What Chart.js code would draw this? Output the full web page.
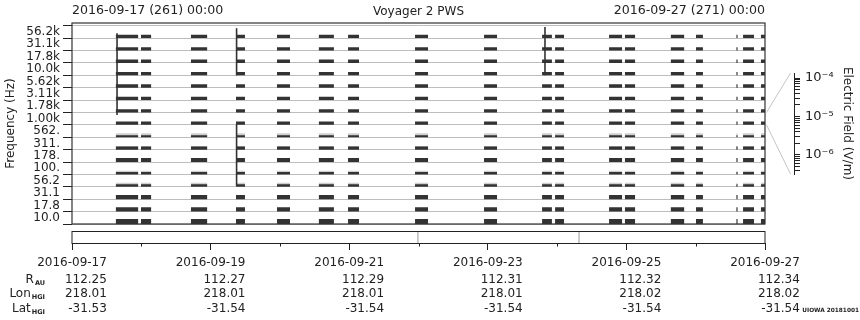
<!DOCTYPE html>
<html>
<head>
<meta charset="utf-8">
<script src="https://cdn.jsdelivr.net/npm/chart.js@4.4.0/dist/chart.umd.min.js"></script>
<style>
  body { margin: 0; background: #fff; }
  #wrap { position: relative; width: 860px; height: 320px; }
  canvas { position: absolute; }
</style>
</head>
<body>
<div id="wrap">
  <canvas id="main" width="860" height="320" style="left:0;top:0"></canvas>
  <canvas id="strip" width="860" height="95" style="left:0;top:225px"></canvas>
  <canvas id="cbar" width="100" height="320" style="left:760px;top:0"></canvas>
</div>
<script>
// channel labels, bottom to top
const freqLabels = ["10.0", "17.8", "31.1", "56.2", "100.", "178.", "311.", "562.",
  "1.00k", "1.78k", "3.11k", "5.62k", "10.0k", "17.8k", "31.1k", "56.2k"];

// data blocks, hours since 2016-09-17 00:00
const blockStart = [15.2, 23.9, 41.2, 56.8, 71.0, 85.5, 95.6, 118.8, 142.7, 162.8, 167.3, 186.0, 191.5, 207.4, 216.1, 230.1, 232.4, 238.6];
const blockEnd   = [22.9, 27.4, 46.8, 59.9, 75.5, 90.7, 99.4, 123.3, 147.2, 166.2, 170.4, 190.5, 195.0, 212.0, 218.5, 230.5, 236.2, 240.0];

// level of each channel trace (fraction of a channel row), and faint scatter above it
const chanLevel = [0.40, 0.35, 0.35, 0.20, 0.20, 0.32, 0.25, 0.16, 0.27, 0.27, 0.27, 0.27, 0.27, 0.27, 0.27, 0.27];
const chanHaze  = [0, 0, 0, 0.32, 0.30, 0, 0.30, 0.32, 0, 0, 0, 0, 0, 0, 0, 0];

// impulsive spikes: time (h) and channel span
const spikeTime = [15.6, 57.0, 57.0, 163.8];
const spikeLow  = [8.8, 12.0, 3.1, 12.0];
const spikeHigh = [15.4, 15.8, 8.05, 15.9];

const headLeft = "2016-09-17 (261) 00:00";
const headTitle = "Voyager 2 PWS";
const headRight = "2016-09-27 (271) 00:00";

const dateTicks = ["2016-09-17", "2016-09-19", "2016-09-21", "2016-09-23", "2016-09-25", "2016-09-27"];
const rAU    = ["112.25", "112.27", "112.29", "112.31", "112.32", "112.34"];
const lonHGI = ["218.01", "218.01", "218.01", "218.01", "218.02", "218.02"];
const latHGI = ["-31.53", "-31.54", "-31.54", "-31.54", "-31.54", "-31.54"];
const stripMarks = [119.8, 175.6];

const fieldMin = 3.2e-7, fieldMax = 1.35e-4;
const fieldTicks = [1e-6, 1e-5, 1e-4];
const fieldLabels = ["10\u207B\u2076", "10\u207B\u2075", "10\u207B\u2074"];

Chart.defaults.font.family = "DejaVu Sans";
Chart.defaults.font.size = 12;
Chart.defaults.color = "#222";

function blockPoints(c, h) {
  const pts = [{ x: 0, y: c }];
  blockStart.forEach((s, i) => {
    pts.push({ x: s, y: c }, { x: s, y: c + h }, { x: blockEnd[i], y: c + h }, { x: blockEnd[i], y: c });
  });
  pts.push({ x: 240, y: c });
  return pts;
}

const datasets = [];
freqLabels.forEach((_, c) => {
  if (chanHaze[c]) {
    datasets.push({ data: blockPoints(c, chanHaze[c]), fill: { value: c }, backgroundColor: "#cfcfcf",
      borderColor: "rgba(0,0,0,0)", borderWidth: 0, pointRadius: 0, order: 2 });
  }
  datasets.push({ data: blockPoints(c, chanLevel[c]), fill: { value: c }, backgroundColor: "#333",
    borderColor: "rgba(0,0,0,0)", borderWidth: 0, pointRadius: 0, order: 1 });
});
spikeTime.forEach((t, i) => {
  datasets.push({ data: [{ x: t, y: spikeLow[i] }, { x: t, y: spikeHigh[i] }],
    borderColor: "#333", borderWidth: 1.6, pointRadius: 0, fill: false, order: 0 });
});

const mainDeco = {
  id: "mainDeco",
  afterDraw(chart) {
    const { ctx, chartArea: a } = chart;
    ctx.save();
    ctx.strokeStyle = "#333";
    ctx.lineWidth = 1.2;
    ctx.strokeRect(a.left, a.top, a.right - a.left, a.bottom - a.top);
    ctx.fillStyle = "#222";
    ctx.textBaseline = "alphabetic";
    ctx.font = '12.6px "DejaVu Sans"';
    ctx.textAlign = "left";
    ctx.fillText(headLeft, a.left, 13.5);
    ctx.textAlign = "right";
    ctx.fillText(headRight, a.right, 13.5);
    ctx.font = '12px "DejaVu Sans"';
    ctx.textAlign = "center";
    ctx.fillText(headTitle, (a.left + a.right) / 2, 15);
    ctx.restore();
  }
};

const mainChart = new Chart(document.getElementById("main"), {
  type: "line",
  data: { datasets },
  options: {
    responsive: false,
    animation: false,
    layout: { padding: { left: 0, top: 23, right: 95, bottom: 96 } },
    plugins: { legend: { display: false }, tooltip: { enabled: false } },
    scales: {
      x: { type: "linear", min: 0, max: 240, display: false },
      y: {
        type: "linear",
        min: 0,
        max: 16.22,
        afterFit(s) { s.width = 72; },
        afterBuildTicks(s) {
          const t = [];
          for (let v = 0; v <= 16; v += 0.5) t.push({ value: v });
          s.ticks = t;
        },
        ticks: {
          autoSkip: false,
          padding: 3,
          callback: (v) => (v % 1 === 0.5 ? freqLabels[Math.floor(v)] : "")
        },
        grid: {
          tickLength: 9,
          color: (c) => (c.tick && c.tick.value % 1 === 0 ? "#bdbdbd" : "rgba(0,0,0,0)"),
          tickColor: (c) => (c.tick && c.tick.value % 1 === 0 ? "#222" : "rgba(0,0,0,0)")
        },
        border: { display: false },
        title: { display: true, text: "Frequency (Hz)", padding: { top: 4, bottom: 4 } }
      }
    }
  },
  plugins: [mainDeco]
});

const stripDeco = {
  id: "stripDeco",
  afterDraw(chart) {
    const { ctx, chartArea: a, scales } = chart;
    const x = scales.x;
    ctx.save();
    ctx.strokeStyle = "#222";
    ctx.lineWidth = 1;
    ctx.strokeRect(a.left, a.top + 0.5, a.right - a.left, a.bottom - a.top);
    ctx.beginPath();
    for (let d = 1; d < 10; d += 2) {
      const px = Math.round(x.getPixelForValue(d * 24)) + 0.5;
      ctx.moveTo(px, a.bottom);
      ctx.lineTo(px, a.bottom + 3.5);
    }
    ctx.stroke();
    ctx.fillStyle = "#222";
    ctx.font = '12px "DejaVu Sans"';
    ctx.textBaseline = "alphabetic";
    dateTicks.forEach((d, i) => {
      const px = x.getPixelForValue(48 * i);
      const w = ctx.measureText(d).width;
      ctx.textAlign = "center";
      ctx.fillText(d, px, 40.7);
      ctx.textAlign = "right";
      ctx.fillText(rAU[i], px + w / 2, 57.7);
      ctx.fillText(lonHGI[i], px + w / 2, 72.3);
      ctx.fillText(latHGI[i], px + w / 2, 86.7);
    });
    const rows = [["R", "AU", 57.7], ["Lon", "HGI", 72.3], ["Lat", "HGI", 86.7]];
    rows.forEach(([main, sub, y]) => {
      ctx.textAlign = "right";
      ctx.font = 'bold 6.5px "DejaVu Sans"';
      const sw = ctx.measureText(sub).width;
      ctx.fillText(sub, 45, y + 2);
      ctx.font = '12px "DejaVu Sans"';
      ctx.fillText(main, 45 - sw - 1, y);
    });
    ctx.font = 'bold 5.8px "DejaVu Sans"';
    ctx.textAlign = "right";
    ctx.fillText("UIOWA 20181001", 859, 86.7);
    ctx.restore();
  }
};

new Chart(document.getElementById("strip"), {
  type: "line",
  data: {
    datasets: stripMarks.map((t) => ({
      data: [{ x: t, y: 0 }, { x: t, y: 1 }], borderColor: "#999", borderWidth: 1, pointRadius: 0
    }))
  },
  options: {
    responsive: false,
    animation: false,
    layout: { padding: { left: 72, right: 95, top: 6, bottom: 0 } },
    plugins: { legend: { display: false }, tooltip: { enabled: false } },
    scales: {
      x: {
        type: "linear",
        min: 0,
        max: 240,
        afterFit(s) { s.height = 77; },
        afterBuildTicks(s) { s.ticks = dateTicks.map((_, i) => ({ value: 48 * i })); },
        ticks: { display: false },
        grid: { drawOnChartArea: false, drawTicks: true, tickLength: 7, color: "#222" },
        border: { display: false }
      },
      y: { type: "linear", min: 0, max: 1, display: false }
    }
  },
  plugins: [stripDeco]
});

const cbarDeco = {
  id: "cbarDeco",
  afterDraw(chart) {
    const { ctx, chartArea: a } = chart;
    const my = mainChart.scales.y;
    ctx.save();
    ctx.strokeStyle = "#c4c4c4";
    ctx.lineWidth = 1;
    ctx.beginPath();
    ctx.moveTo(6.5, my.getPixelForValue(9));
    ctx.lineTo(a.right - 3.5, a.top);
    ctx.moveTo(6.5, my.getPixelForValue(8));
    ctx.lineTo(a.right - 3.5, a.bottom);
    ctx.stroke();
    ctx.restore();
  }
};

new Chart(document.getElementById("cbar"), {
  type: "line",
  data: { datasets: [] },
  options: {
    responsive: false,
    animation: false,
    layout: { padding: { left: 0, top: 73, right: 0, bottom: 146 } },
    plugins: { legend: { display: false }, tooltip: { enabled: false } },
    scales: {
      x: { type: "linear", min: 0, max: 1, display: false },
      y: {
        type: "logarithmic",
        position: "right",
        min: fieldMin,
        max: fieldMax,
        afterFit(s) { s.width = 66; },
        afterBuildTicks(s) {
          const t = [];
          for (let e = -7; e <= -4; e++) {
            for (let m = 1; m <= 9; m++) {
              const v = m * Math.pow(10, e);
              if (v >= fieldMin && v <= fieldMax) t.push({ value: v, major: m === 1 });
            }
          }
          s.ticks = t;
        },
        ticks: {
          autoSkip: false,
          padding: 5,
          font: { size: 13 },
          callback: (v) => {
            const i = fieldTicks.findIndex((f) => Math.abs(f - v) / f < 1e-6);
            return i >= 0 ? fieldLabels[i] : "";
          }
        },
        grid: { drawOnChartArea: false, tickLength: 6, color: "#222" },
        border: { display: true, color: "#222", width: 1 },
        title: { display: true, text: "Electric Field (V/m)", padding: { top: 6, bottom: 2 } }
      }
    }
  },
  plugins: [cbarDeco]
});
</script>
</body>
</html>
